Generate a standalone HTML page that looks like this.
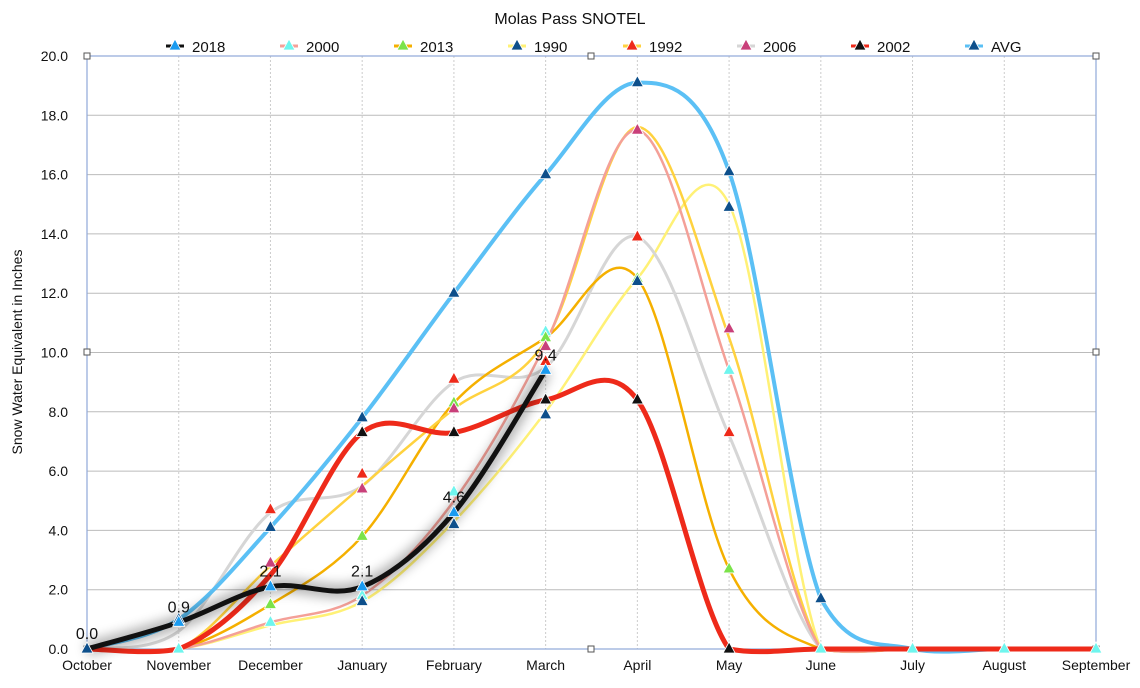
<!DOCTYPE html>
<html><head><meta charset="utf-8"><style>
html,body{margin:0;padding:0;background:#fff;}
svg{display:block;font-family:"Liberation Sans",sans-serif;}
</style></head><body>
<svg id="c" width="1140" height="688" viewBox="0 0 1140 688" xmlns="http://www.w3.org/2000/svg">
<defs><filter id="sh" x="-20%" y="-20%" width="140%" height="140%"><feGaussianBlur stdDeviation="6"/></filter></defs>
<text x="570" y="24" font-size="16" text-anchor="middle" fill="#111">Molas Pass SNOTEL</text>
<text transform="translate(22,352) rotate(-90)" font-size="14" text-anchor="middle" fill="#111">Snow Water Equivalent in Inches</text>
<g id="grid"></g>
<g id="series"></g>
<g id="legend"></g>
</svg>
<script>
const svg=document.getElementById('c');
const NS='http://www.w3.org/2000/svg';
function el(t,a,p){const e=document.createElementNS(NS,t);for(const k in a)e.setAttribute(k,a[k]);(p||svg).appendChild(e);return e;}
const X0=87,X1=1096,Y0=649,Y20=56;
const xs=i=>X0+(X1-X0)*i/11, ys=v=>Y0-(Y0-Y20)*v/20;
const g=document.getElementById('grid');
for(let v=0;v<=20;v+=2){el('line',{x1:X0,x2:X1,y1:ys(v),y2:ys(v),stroke:'#bbb','stroke-width':1},g);
 const t=el('text',{x:68,y:ys(v)+5,'font-size':14,'text-anchor':'end',fill:'#111'},g);t.textContent=v.toFixed(1);}
const months=['October','November','December','January','February','March','April','May','June','July','August','September'];
months.forEach((m,i)=>{if(i>0&&i<11)el('line',{x1:xs(i),x2:xs(i),y1:Y20,y2:Y0,stroke:'#ccc','stroke-dasharray':'2,2'},g);
 const t=el('text',{x:xs(i),y:670,'font-size':14,'text-anchor':'middle',fill:'#111'},g);t.textContent=m;});
el('rect',{x:X0,y:Y20,width:X1-X0,height:Y0-Y20,fill:'none',stroke:'#8fa8d8','stroke-width':1.2},g);
[[X0,Y20],[591,Y20],[X1,Y20],[X0,352],[X1,352],[X0,Y0],[591,Y0],[X1,Y0]].forEach(p=>el('rect',{x:p[0]-3,y:p[1]-3,width:6,height:6,fill:'#fff',stroke:'#555'},g));
const cl=y=>Math.min(y,Y0+6);
function path(d){const pts=d.map((v,i)=>[xs(i),ys(v)]);let s=`M${pts[0][0]},${pts[0][1]}`;
 for(let i=0;i<pts.length-1;i++){const p0=pts[i-1]||pts[i],p1=pts[i],p2=pts[i+1],p3=pts[i+2]||p2;
 s+=` C${p1[0]+(p2[0]-p0[0])/6},${cl(p1[1]+(p2[1]-p0[1])/6)} ${p2[0]-(p3[0]-p1[0])/6},${cl(p2[1]-(p3[1]-p1[1])/6)} ${p2[0]},${p2[1]}`;}return s;}
const S=document.getElementById('series');
function tri(x,y,c,p){el('path',{d:`M${x},${y-7} L${x+6},${y+4} L${x-6},${y+4} Z`,fill:c,stroke:'#fff','stroke-width':0.8},p||S);}
const series=[
 {n:'1990',line:'#fff176',mk:'#0d4f8b',w:2.5,d:[0,0,0.8,1.6,4.3,8.0,12.5,15.0,0,0,0,0]},
 {n:'2006',line:'#d6d6d6',mk:'#c9407a',w:3,d:[0,0.6,4.6,5.5,9.0,9.5,13.9,7.2,0,0,0,0]},
 {n:'2013',line:'#f5b000',mk:'#7be34a',w:2.5,d:[0,0,1.5,3.8,8.3,10.5,12.5,2.7,0,0,0,0]},
 {n:'1992',line:'#ffd23f',mk:'#ee2a1a',w:2.5,d:[0,0,2.8,5.5,8.1,10.4,17.6,10.5,0,0,0,0]},
 {n:'2000',line:'#f4a098',mk:'#6ff5ee',w:2.5,d:[0,0,0.9,1.8,5.0,10.3,17.5,9.4,0,0,0,0]},
 {n:'AVG',line:'#5bc0f5',mk:'#0d4f8b',w:4,d:[0,1.0,4.1,7.8,12.0,16.0,19.1,16.1,1.7,0,0,0]},
 {n:'2002',line:'#ee2a1a',mk:'#111',w:5,d:[0,0,2.5,7.3,7.3,8.4,8.4,0,0,0,0,0]},
];
series.forEach(s=>el('path',{d:path(s.d),fill:'none',stroke:s.line,'stroke-width':s.w},S));
const blk=[0,0.9,2.1,2.1,4.6,9.4];
el('path',{d:path(blk),fill:'none',stroke:'#000','stroke-width':12,opacity:0.35,filter:'url(#sh)'},S);
el('path',{d:path(blk),fill:'none',stroke:'#111','stroke-width':5},S);
const mk=[
 ['#6ff5ee',[[1,0],[2,0.9],[3,1.8],[4,5.3],[5,10.7],[6,17.5],[7,9.4],[8,0],[9,0],[10,0],[11,0]]],
 ['#7be34a',[[2,1.5],[3,3.8],[4,8.3],[5,10.5],[6,12.5],[7,2.7]]],
 ['#ee2a1a',[[2,4.7],[3,5.9],[4,9.1],[5,9.7],[6,13.9],[7,7.3]]],
 ['#c9407a',[[2,2.9],[3,5.4],[4,8.1],[5,10.2],[6,17.5],[7,10.8]]],
 ['#111',[[3,7.3],[4,7.3],[5,8.4],[6,8.4],[7,0]]],
 ['#0d4f8b',[[0,0],[1,1.0],[2,4.1],[3,7.8],[4,12.0],[5,16.0],[6,19.1],[7,16.1],[8,1.7],[3,1.6],[4,4.2],[5,7.9],[6,12.4],[7,14.9]]],
 ['#1a9bf0',[[1,0.9],[2,2.1],[3,2.1],[4,4.6],[5,9.4]]],
];
mk.forEach(m=>m[1].forEach(p=>tri(xs(p[0]),ys(p[1]),m[0])));
[[0,0.0,'0.0'],[1,0.9,'0.9'],[2,2.1,'2.1'],[3,2.1,'2.1'],[4,4.6,'4.6'],[5,9.4,'9.4']].forEach(l=>{
 const t=el('text',{x:xs(l[0]),y:ys(l[1])-10,'font-size':16,'text-anchor':'middle',fill:'#111'},S);t.textContent=l[2];});
const L=document.getElementById('legend');
const leg=[['2018','#111','#1a9bf0',175],['2000','#f4a098','#6ff5ee',289],['2013','#f5b000','#7be34a',403],['1990','#fff176','#0d4f8b',517],['1992','#ffd23f','#ee2a1a',632],['2006','#d6d6d6','#c9407a',746],['2002','#ee2a1a','#111',860],['AVG','#5bc0f5','#0d4f8b',974]];
leg.forEach(l=>{el('line',{x1:l[3]-9,x2:l[3]+9,y1:46,y2:46,stroke:l[1],'stroke-width':3},L);tri(l[3],46,l[2],L);
 const t=el('text',{x:l[3]+17,y:52,'font-size':15,fill:'#111'},L);t.textContent=l[0];});
</script>
</body></html>
